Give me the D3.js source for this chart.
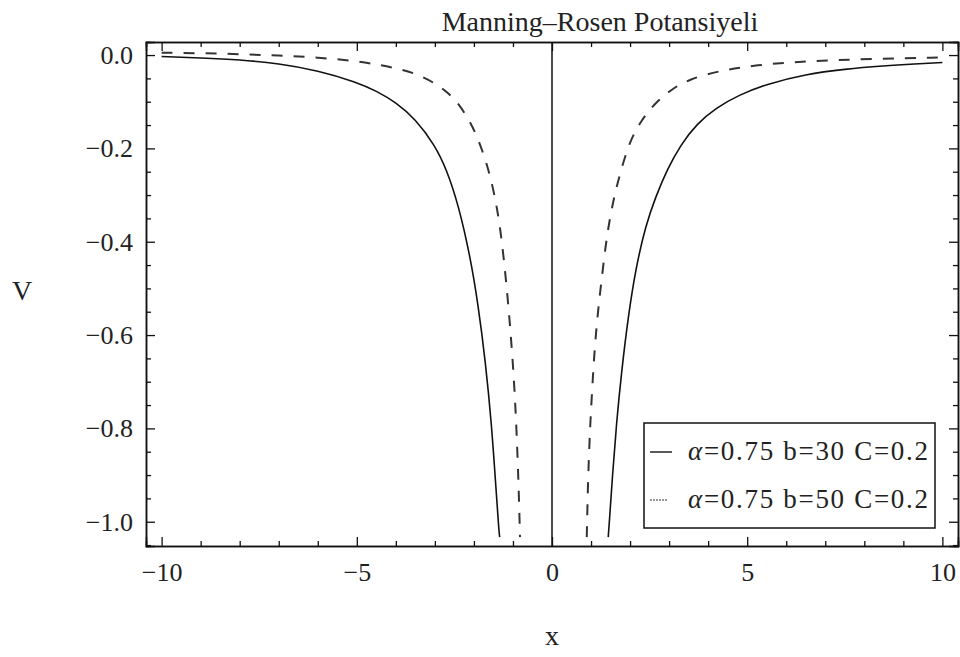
<!DOCTYPE html>
<html>
<head>
<meta charset="utf-8">
<script src="https://cdn.jsdelivr.net/npm/d3@7"></script>
<style>
  body { margin: 0; background: #fff; }
  text { font-family: "Liberation Serif", "Times New Roman", "DejaVu Serif", serif; fill: #222; }
</style>
</head>
<body>
<div id="chart"></div>
<script>
// values (x, V)
const solidLeftX  = [-10, -9, -8, -7, -6, -5, -4.5, -4, -3.5, -3, -2.7, -2.4, -2.1, -1.9, -1.7, -1.55, -1.45, -1.36, -1.34];
const solidLeftV  = [-0.003, -0.006, -0.01, -0.018, -0.033, -0.058, -0.077, -0.101, -0.137, -0.193, -0.245, -0.32, -0.43, -0.53, -0.66, -0.79, -0.91, -1.02, -1.033];
const solidRightX = [1.44, 1.47, 1.55, 1.65, 1.78, 1.95, 2.15, 2.4, 2.65, 2.95, 3.3, 3.7, 4.2, 4.8, 5.5, 6.5, 7.5, 8.5, 9.3, 10];
const solidRightV = [-1.033, -1.0, -0.9, -0.79, -0.68, -0.561, -0.455, -0.365, -0.305, -0.245, -0.192, -0.148, -0.113, -0.085, -0.062, -0.041, -0.03, -0.023, -0.019, -0.016];
const dashLeftX   = [-10, -9, -8, -7, -6, -5, -4.5, -4, -3.5, -3, -2.7, -2.4, -2.1, -1.9, -1.7, -1.55, -1.4, -1.28, -1.15, -1.05, -0.97, -0.91, -0.86, -0.83, -0.82];
const dashLeftV   = [0.005, 0.004, 0.002, -0.001, -0.005, -0.013, -0.02, -0.028, -0.039, -0.06, -0.078, -0.103, -0.142, -0.178, -0.225, -0.27, -0.33, -0.4, -0.505, -0.605, -0.7, -0.8, -0.91, -1.0, -1.033];
const dashRightX  = [0.89, 0.9, 0.92, 0.96, 0.99, 1.04, 1.09, 1.17, 1.26, 1.37, 1.48, 1.62, 1.78, 1.99, 2.29, 2.67, 3.1, 3.52, 4.21, 5.23, 6.51, 8.22, 10];
const dashRightV  = [-1.033, -1.0, -0.918, -0.83, -0.775, -0.7, -0.632, -0.555, -0.489, -0.41, -0.35, -0.293, -0.243, -0.185, -0.139, -0.1, -0.071, -0.052, -0.035, -0.021, -0.013, -0.008, -0.005];

const xMajor = [-10, -5, 0, 5, 10];
const yMajor = [0, -0.2, -0.4, -0.6, -0.8, -1.0];
const legendLabels = [["α", "=0.75 b=30 C=0.2"], ["α", "=0.75 b=50 C=0.2"]];
const title = "Manning\u2013Rosen Potansiyeli";

const width = 960, height = 657;
const margin = { top: 42, right: 2, bottom: 111, left: 146 };

const svg = d3.select("#chart").append("svg")
    .attr("width", width)
    .attr("height", height);

const x = d3.scaleLinear().domain([-10.4, 10.4]).range([margin.left, width - margin.right]);
const y = d3.scaleLinear().domain([0.028, -1.052]).range([margin.top, height - margin.bottom]);

const fmt = d => d === 0 ? "0" : d3.format("")(d).replace("-", "\u2212");
const fmtY = d => d3.format(".1f")(d).replace("-", "\u2212");

const xMinor = d3.range(-10, 11, 1).filter(d => d % 5 !== 0);
const yMinor = d3.range(0, -1.051, -0.05).map(d => +d.toFixed(2)).filter(d => !yMajor.includes(d));

// frame axes, ticks pointing inwards
svg.append("g").attr("transform", `translate(0,${y.range()[1]})`)
    .call(d3.axisBottom(x).tickValues(xMajor).tickSize(-9).tickFormat(fmt).tickPadding(17))
    .call(g => g.selectAll(".tick text").attr("font-size", 26));
svg.append("g").attr("transform", `translate(0,${y.range()[1]})`)
    .call(d3.axisBottom(x).tickValues(xMinor).tickSize(-5).tickFormat(""));
svg.append("g").attr("transform", `translate(0,${y.range()[0]})`)
    .call(d3.axisTop(x).tickValues(xMajor).tickSize(-9).tickFormat(""));
svg.append("g").attr("transform", `translate(0,${y.range()[0]})`)
    .call(d3.axisTop(x).tickValues(xMinor).tickSize(-5).tickFormat(""));

svg.append("g").attr("transform", `translate(${x.range()[0]},0)`)
    .call(d3.axisLeft(y).tickValues(yMajor).tickSize(-9).tickFormat(fmtY).tickPadding(13))
    .call(g => g.selectAll(".tick text").attr("font-size", 26));
svg.append("g").attr("transform", `translate(${x.range()[0]},0)`)
    .call(d3.axisLeft(y).tickValues(yMinor).tickSize(-5).tickFormat(""));
svg.append("g").attr("transform", `translate(${x.range()[1]},0)`)
    .call(d3.axisRight(y).tickValues(yMajor).tickSize(-9).tickFormat(""));
svg.append("g").attr("transform", `translate(${x.range()[1]},0)`)
    .call(d3.axisRight(y).tickValues(yMinor).tickSize(-5).tickFormat(""));

svg.selectAll(".domain").attr("stroke", "#111").attr("stroke-width", 1.5);
svg.selectAll(".tick line").attr("stroke", "#111").attr("stroke-width", 1.3);

// vertical axis at x = 0
svg.append("line")
    .attr("x1", x(0)).attr("x2", x(0))
    .attr("y1", y.range()[0]).attr("y2", y.range()[1])
    .attr("stroke", "#111").attr("stroke-width", 1.5);

const line = d3.line().x(d => x(d[0])).y(d => y(d[1])).curve(d3.curveBasis);
const zip = (a, b) => a.map((v, i) => [v, b[i]]);

const curves = [
    { pts: zip(solidLeftX, solidLeftV), dash: null },
    { pts: zip(solidRightX, solidRightV), dash: null },
    { pts: zip(dashLeftX, dashLeftV), dash: "11,11" },
    { pts: zip(dashRightX, dashRightV), dash: "11,11" }
];

svg.append("g").selectAll("path")
    .data(curves)
    .join("path")
    .attr("d", d => line(d.pts))
    .attr("fill", "none")
    .attr("stroke", d => d.dash ? "#333" : "#111")
    .attr("stroke-width", d => d.dash ? 2 : 1.6)
    .attr("stroke-dasharray", d => d.dash);

// title and axis labels
svg.append("text").attr("x", 600).attr("y", 31).attr("text-anchor", "middle")
    .attr("font-size", 28).text(title);
svg.append("text").attr("x", 22).attr("y", 300).attr("text-anchor", "middle")
    .attr("font-size", 28).text("V");
svg.append("text").attr("x", x(0)).attr("y", 645).attr("text-anchor", "middle")
    .attr("font-size", 28).text("x");

// legend
const lg = svg.append("g").attr("transform", "translate(644,423)");
lg.append("rect").attr("width", 291).attr("height", 105)
    .attr("fill", "#fff").attr("stroke", "#111").attr("stroke-width", 1.5);
const rows = lg.selectAll("g.row").data(legendLabels).join("g")
    .attr("class", "row")
    .attr("transform", (d, i) => `translate(0,${37 + i * 48})`);
rows.append("line")
    .attr("x1", 6).attr("x2", (d, i) => i ? 24 : 28)
    .attr("y1", -8).attr("y2", -8)
    .attr("stroke", (d, i) => i ? "#999" : "#222")
    .attr("stroke-width", (d, i) => i ? 2 : 1.5)
    .attr("stroke-dasharray", (d, i) => i ? "2,1" : null);
const lt = rows.append("text").attr("x", 44).attr("y", 0)
    .attr("font-size", 27)
    .attr("textLength", 240).attr("lengthAdjust", "spacing");
lt.append("tspan").attr("font-style", "italic").text(d => d[0]);
lt.append("tspan").text(d => d[1]);
</script>
</body>
</html>
